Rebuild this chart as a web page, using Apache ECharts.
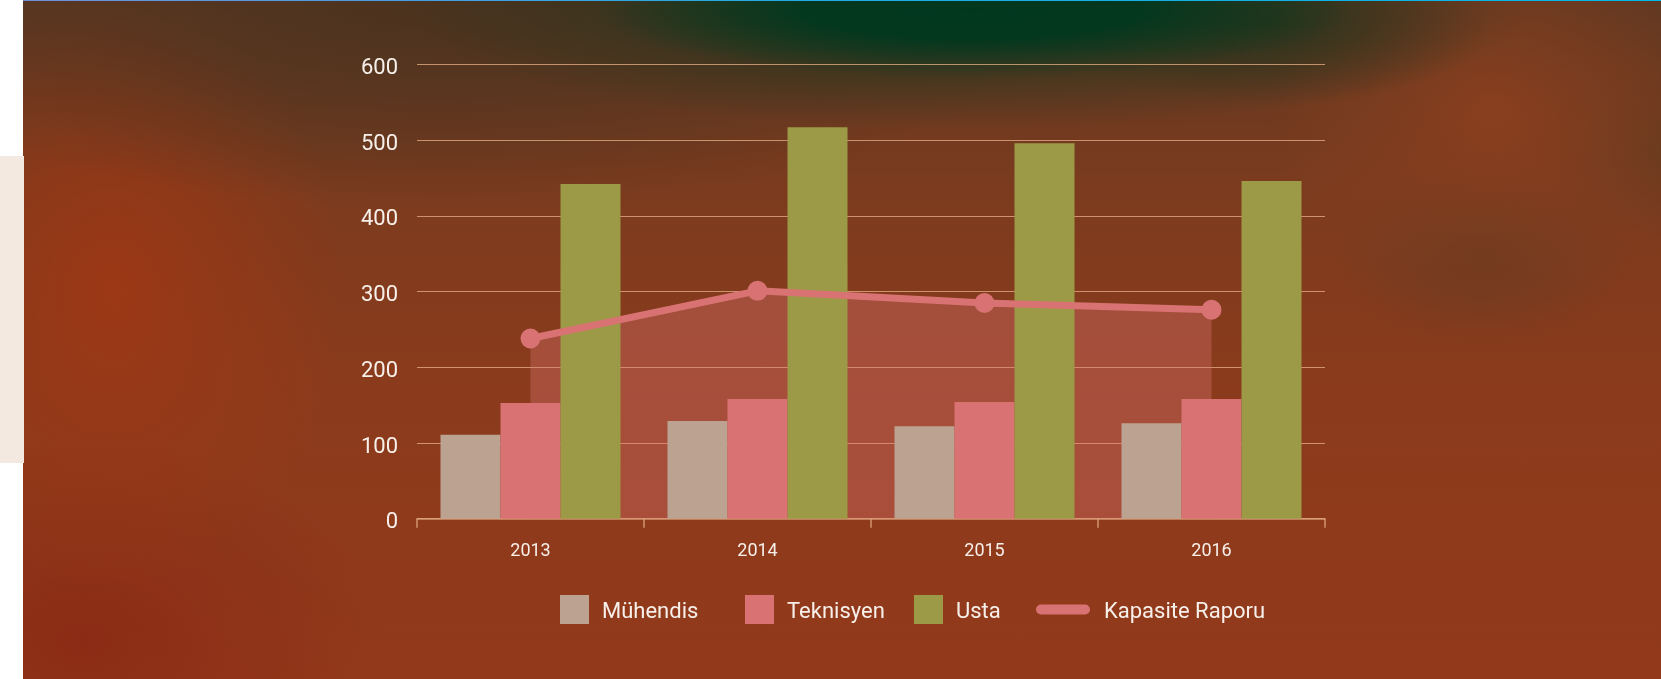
<!DOCTYPE html>
<html>
<head>
<meta charset="utf-8">
<script src="https://cdn.jsdelivr.net/npm/echarts@6/dist/echarts.min.js"></script>
<style>
  html, body { margin: 0; padding: 0; width: 1661px; height: 679px; overflow: hidden; background: #ffffff; }
  #bg {
    position: absolute; left: 23px; top: 0; width: 1638px; height: 679px;
    background:
      radial-gradient(ellipse 380px 70px at 950px 8px, rgba(0,56,30,1) 0%, rgba(0,56,30,0.92) 45%, rgba(0,56,30,0) 100%),
      radial-gradient(ellipse 560px 120px at 950px 10px, rgba(20,52,28,0.75) 0%, rgba(20,52,28,0.4) 55%, rgba(20,52,28,0) 100%),
      radial-gradient(ellipse 220px 80px at 1250px 25px, rgba(50,50,28,0.75) 0%, rgba(50,50,28,0) 100%),
      radial-gradient(ellipse 620px 210px at 420px 0px, rgba(72,50,30,0.9) 0%, rgba(72,50,30,0) 100%),
      radial-gradient(ellipse 230px 300px at 90px 290px, rgba(158,55,20,0.9) 0%, rgba(158,55,20,0) 100%),
      radial-gradient(ellipse 220px 190px at 1470px 110px, rgba(142,64,30,0.8) 0%, rgba(142,64,30,0) 100%),
      radial-gradient(ellipse 150px 100px at 1460px 250px, rgba(100,58,32,0.7) 0%, rgba(100,58,32,0) 100%),
      radial-gradient(ellipse 120px 90px at 1640px 150px, rgba(95,58,32,0.7) 0%, rgba(95,58,32,0) 100%),
      radial-gradient(ellipse 300px 200px at 60px 640px, rgba(138,40,20,0.8) 0%, rgba(138,40,20,0) 100%),
      linear-gradient(to bottom, #5e3822 0%, #7c3b1e 28%, #8a3b1c 55%, #93391b 100%);
  }
  #topline { position: absolute; left: 23px; top: 0; width: 1638px; height: 1px;
    background: linear-gradient(to right, #6f8fdc 0%, #2aa8e6 40%, #00b8ea 100%); }
  #panel { position: absolute; left: 0; top: 156px; width: 24px; height: 307px; background: #f3e9e1; }
  #chart { position: absolute; left: 0; top: 0; width: 1661px; height: 679px; }
</style>
</head>
<body>
<div id="bg"></div>
<div id="topline"></div>
<div id="panel"></div>
<div id="chart"></div>
<script>
// ---- data ----
const categories = ['2013', '2014', '2015', '2016'];
const muhendis = [111, 129, 122, 126];
const teknisyen = [153, 158, 154, 158];
const usta = [442, 517, 496, 446];
const kapasite = [238, 301, 285, 276];
const yTicks = [0, 100, 200, 300, 400, 500, 600];
const seriesNames = ['Mühendis', 'Teknisyen', 'Usta', 'Kapasite Raporu'];

// ---- style ----
const C_MUH = '#bca391';
const C_TEK = '#d97373';
const C_USTA = '#9c9a46';
const C_LINE = '#d97373';
const C_GRID = 'rgba(225,170,130,0.8)';
const C_TEXT = '#f7f0ea';
const FONT = 'Roboto';

// legend icons in a 64x34 box (corner points fix the bounding box)
const squareIcon = 'path://M0,0L0,0M27,0L56,0L56,29L27,29ZM64,34L64,34';
const lineIcon = 'path://M0,0L0,0M6,9.5L50,9.5A5,5,0,0,1,50,19.5L6,19.5A5,5,0,0,1,6,9.5ZM64,34L64,34';
const legendLefts = [533, 718, 887, 1035];

function makeLegend(i) {
  return {
    left: legendLefts[i], top: 595, padding: 0,
    itemWidth: 64, itemHeight: 34, itemGap: 0,
    textStyle: { color: C_TEXT, fontSize: 22, fontFamily: FONT },
    data: [{ name: seriesNames[i], icon: i === 3 ? lineIcon : squareIcon }]
  };
}

const chart = echarts.init(document.getElementById('chart'), null, { renderer: 'canvas' });
chart.setOption({
  backgroundColor: 'transparent',
  animation: false,
  textStyle: { fontFamily: FONT },
  grid: { left: 417, right: 336, top: 64.5, bottom: 160.3, containLabel: false },
  legend: [0, 1, 2, 3].map(makeLegend),
  xAxis: {
    type: 'category',
    data: categories,
    boundaryGap: true,
    axisLine: { show: true, lineStyle: { color: C_GRID, width: 1.5 } },
    axisTick: { show: true, length: 9, lineStyle: { color: C_GRID, width: 1.5 } },
    axisLabel: { color: C_TEXT, fontSize: 18, margin: 24, fontFamily: FONT },
    splitLine: { show: false }
  },
  yAxis: {
    type: 'value',
    min: yTicks[0], max: yTicks[yTicks.length - 1], interval: 100,
    axisLine: { show: false },
    axisTick: { show: false },
    axisLabel: { color: C_TEXT, fontSize: 22, margin: 19, fontFamily: FONT, verticalAlign: 'top', lineHeight: 8 },
    splitLine: { show: true, lineStyle: { color: C_GRID, width: 1 } }
  },
  series: [
    {
      name: '_area', type: 'line', data: kapasite, z: 1,
      symbol: 'none', silent: true,
      lineStyle: { width: 0, opacity: 0 },
      areaStyle: { color: 'rgba(217,115,115,0.5)' }
    },
    { name: seriesNames[0], type: 'bar', data: muhendis, barWidth: 60, barGap: '0%', z: 2, itemStyle: { color: C_MUH } },
    { name: seriesNames[1], type: 'bar', data: teknisyen, barWidth: 60, barGap: '0%', z: 2, itemStyle: { color: C_TEK } },
    { name: seriesNames[2], type: 'bar', data: usta, barWidth: 60, barGap: '0%', z: 2, itemStyle: { color: C_USTA } },
    {
      name: seriesNames[3], type: 'line', data: kapasite, z: 3,
      symbol: 'circle', symbolSize: 20,
      itemStyle: { color: C_LINE },
      lineStyle: { color: C_LINE, width: 7 }
    }
  ]
});
</script>
</body>
</html>
